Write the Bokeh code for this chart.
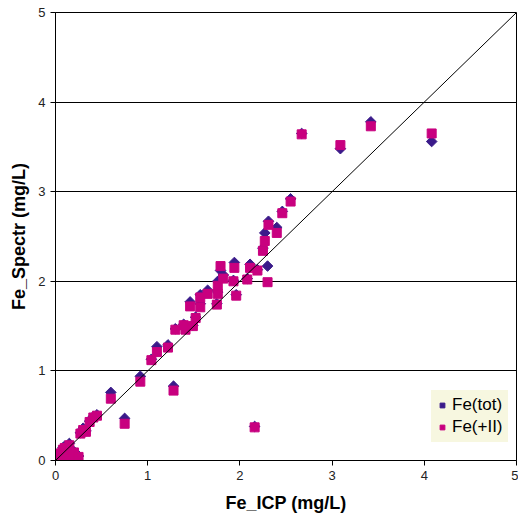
import math
from bokeh.plotting import figure
from bokeh.models import FixedTicker, Slope, Legend, LegendItem, ColumnDataSource
from bokeh.embed import file_html
from bokeh.resources import INLINE

# ICP iron (x) and spectrophotometric iron: total and Fe(+II)
fe_icp = [0.00, 0.02, 0.04, 0.06, 0.08, 0.10, 0.12, 0.15, 0.17, 0.20,
          0.25, 0.27, 0.30, 0.33, 0.37, 0.41, 0.45, 0.60, 0.75, 0.92,
          1.04, 1.10, 1.22, 1.28, 1.30, 1.39, 1.41, 1.46, 1.49, 1.52,
          1.57, 1.57, 1.65, 1.75, 1.76, 1.76, 1.79, 1.82, 1.93, 1.94,
          1.96, 2.08, 2.11, 2.16, 2.19, 2.25, 2.27, 2.30, 2.31, 2.40,
          2.46, 2.55, 2.67, 3.09, 3.42, 4.08]
fe_tot = [0.02, 0.04, 0.08, 0.10, 0.14, 0.16, 0.06, 0.19, 0.03, 0.10,
          0.05, 0.31, 0.36, 0.33, 0.44, 0.49, 0.51, 0.76, 0.47, 0.94,
          1.13, 1.27, 1.29, 0.83, 1.47, 1.52, 1.47, 1.77, 1.51, 1.60,
          1.75, 1.85, 1.90, 1.75, 1.88, 2.00, 2.12, 2.07, 2.01, 2.21,
          1.85, 2.03, 2.19, 0.38, 2.13, 2.37, 2.54, 2.17, 2.67, 2.60,
          2.78, 2.92, 3.65, 3.48, 3.78, 3.56]
fe_ii = [0.00, 0.03, 0.06, 0.08, 0.12, 0.14, 0.05, 0.17, 0.02, 0.09,
         0.04, 0.30, 0.34, 0.32, 0.43, 0.48, 0.50, 0.69, 0.41, 0.88,
         1.12, 1.21, 1.26, 0.78, 1.46, 1.51, 1.46, 1.72, 1.50, 1.59,
         1.71, 1.82, 1.86, 1.74, 1.86, 1.95, 2.17, 2.03, 2.00, 2.15,
         1.84, 2.02, 2.15, 0.37, 2.12, 2.34, 2.45, 1.99, 2.63, 2.54,
         2.76, 2.89, 3.64, 3.52, 3.73, 3.65]
axis_ticks = [0, 1, 2, 3, 4, 5]
series_names = ["Fe(tot)", "Fe(+II)"]

src = ColumnDataSource(dict(x=fe_icp, tot=fe_tot, fe2=fe_ii))

FONT = "Liberation Sans"
p = figure(width=518, height=519, output_backend="svg", toolbar_location=None,
           x_range=(0, 5), y_range=(0, 5),
           min_border_left=55, min_border_right=2, min_border_top=12, min_border_bottom=59)
p.background_fill_color = "white"
p.border_fill_color = "white"
p.outline_line_color = "black"
p.outline_line_width = 1

for ax, ticker in ((p.xaxis[0], axis_ticks), (p.yaxis[0], axis_ticks)):
    ax.ticker = FixedTicker(ticks=ticker)
    ax.minor_tick_line_color = None
    ax.major_tick_in = 0
    ax.major_tick_out = 5
    ax.axis_line_color = "black"
    ax.major_tick_line_color = "black"
    ax.major_label_text_font = FONT
    ax.major_label_text_font_size = "13px"
    ax.major_label_text_color = "#222222"
    ax.axis_label_text_font = FONT
    ax.axis_label_text_font_style = "bold"
    ax.axis_label_text_font_size = "18px"
    ax.axis_label_text_color = "black"

p.xaxis[0].axis_label = "Fe_ICP (mg/L)"
p.yaxis[0].axis_label = "Fe_Spectr (mg/L)"
p.xaxis[0].major_label_standoff = 5
p.xaxis[0].axis_label_standoff = 10
p.yaxis[0].major_label_standoff = 5
p.yaxis[0].axis_label_standoff = 6

p.xgrid.grid_line_color = None
p.ygrid.ticker = FixedTicker(ticks=axis_ticks[1:-1])
p.ygrid.grid_line_color = "black"
p.ygrid.grid_line_width = 1

p.add_layout(Slope(gradient=1, y_intercept=0, line_color="black", line_width=1))

r_tot = p.scatter("x", "tot", source=src, marker="square", angle=math.pi / 4,
                  size=7.5, fill_color="#3A1A8A", line_color="#3A1A8A")
r_ii = p.scatter("x", "fe2", source=src, marker="square", size=9,
                 fill_color="#C8007F", line_color="#C8007F")

legend = Legend(items=[LegendItem(label=series_names[0], renderers=[r_tot]),
                       LegendItem(label=series_names[1], renderers=[r_ii])],
                location=(376, 18))
legend.background_fill_color = "#F7F7E0"
legend.background_fill_alpha = 1
legend.border_line_alpha = 0
legend.label_text_font = FONT
legend.label_text_font_size = "17px"
legend.label_text_color = "black"
legend.glyph_width = 12
legend.glyph_height = 12
legend.label_standoff = 4
legend.spacing = 2
legend.padding = 5
legend.margin = 0
p.add_layout(legend, "center")

open("out.html", "w").write(file_html(p, INLINE))
